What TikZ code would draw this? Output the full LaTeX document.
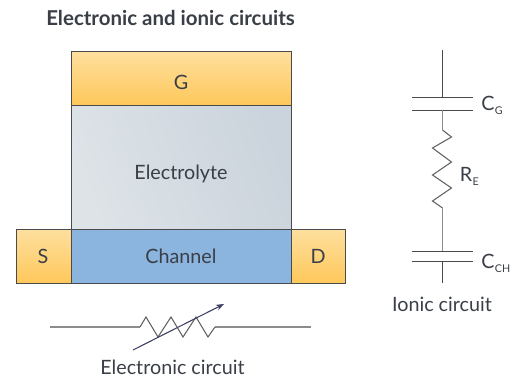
\documentclass[tikz,border=0pt]{standalone}
\usepackage{fontspec}
\setmainfont{Lato}
\usetikzlibrary{arrows.meta}
\definecolor{ink}{HTML}{3A3F47}
\definecolor{edge}{HTML}{4A4A4A}
\definecolor{wire}{HTML}{8C8C8C}
\definecolor{goldT}{HTML}{FEDF9E}
\definecolor{goldB}{HTML}{FEC85A}
\definecolor{elA}{HTML}{DDE3E7}
\definecolor{elB}{HTML}{CBD3DC}
\definecolor{chan}{HTML}{8BB4DF}
\tikzset{
  gold/.style={draw=edge,line width=0.8pt,top color=goldT,bottom color=goldB,inner sep=0pt,anchor=north west,minimum height=40.5pt},
  lab/.style={text=ink,font=\fontsize{14.8}{16}\selectfont,inner sep=0pt},
  wirel/.style={draw=wire,line width=1pt},
  darkl/.style={draw=edge,line width=0.7pt},
  zigl/.style={draw=wire!70!black,line width=0.8pt},
  sublab/.style={text=ink,font=\fontsize{8}{9}\selectfont,inner sep=0pt,yshift=-3.5pt}
}
\begin{document}
\begin{tikzpicture}[x=0.75pt,y=-0.75pt]
\useasboundingbox (0,0) rectangle (517,378);
% boxes
\node[gold,minimum width=165pt] (g) at (71,51) {};
\node[draw=edge,line width=0.8pt,shade,shading=axis,left color=elA,right color=elB,shading angle=110,minimum width=165pt,minimum height=93pt,inner sep=0pt,anchor=north west] (el) at (71,105) {};
\node[draw=edge,line width=0.8pt,fill=chan,minimum width=165pt,minimum height=40.5pt,inner sep=0pt,anchor=north west] (ch) at (71,229) {};
\node[gold,minimum width=41.25pt] (s) at (16,229) {};
\node[gold,minimum width=40.5pt] (d) at (291,229) {};
\node[lab] (gt) at (181,82) {G};
\node[lab] (elt) at (181,173.5) {Electrolyte};
\node[lab] (cht) at (181,256) {Channel};
\node[lab] (st) at (43,256) {S};
\node[lab] (dt) at (318,256) {D};
% title
\node[text=ink,inner sep=0pt,anchor=base west,font=\fontsize{15.35}{17}\selectfont\bfseries] (title) at (46,26) {Electronic and ionic circuits};
% electronic circuit
\coordinate (e1) at (50,327);
\coordinate (e2) at (140,327);
\coordinate (e3) at (215,327);
\coordinate (e4) at (311,327);
\draw[wirel] (e1) -- (e2);
\draw[wirel] (e3) -- (e4);
\draw[zigl] (e2) -- (146,317) -- (158,337) -- (171,317) -- (183,337) -- (196,317) -- (208,337) -- (e3);
\coordinate (a1) at (133,350);
\coordinate (a2) at (224,304);
\draw[draw=edge!85!blue,line width=0.8pt,-{Stealth[length=6pt,width=4.5pt]}] (a1) -- (a2);
\node[lab,anchor=base] (ec) at (172.5,374) {Electronic circuit};
% ionic circuit
\coordinate (t) at (442.5,50);
\coordinate (p1) at (442.5,97.5);
\coordinate (p2) at (442.5,110);
\coordinate (r1) at (442.5,130);
\coordinate (r2) at (442.5,208);
\coordinate (p3) at (442.5,251);
\coordinate (p4) at (442.5,261);
\coordinate (b) at (442.5,283);
\draw[darkl] (t) -- (p1);
\draw[darkl] (412,97.5) -- (473,97.5);
\draw[darkl] (412,110) -- (473,110);
\draw[wirel] (p2) -- (r1);
\draw[zigl] (r1) -- (451.5,137) -- (432.5,148) -- (451.5,162) -- (432.5,175) -- (451.5,188) -- (432.5,201) -- (r2);
\draw[wirel] (r2) -- (p3);
\draw[darkl] (412,251) -- (473,251);
\draw[darkl] (412,261) -- (473,261);
\draw[darkl] (p4) -- (b);
\node[lab,anchor=base west] (cg) at (481,110) {C};
\node[sublab,anchor=base west] (cgs) at (cg.base east) {G};
\node[lab,anchor=base west] (re) at (459.5,181) {R};
\node[sublab,anchor=base west] (res) at (re.base east) {E};
\node[lab,anchor=base west] (cc) at (481,268) {C};
\node[sublab,anchor=base west] (ccs) at (cc.base east) {CH};
\node[lab,anchor=base] (ic) at (442,311) {Ionic circuit};
\end{tikzpicture}
\end{document}
